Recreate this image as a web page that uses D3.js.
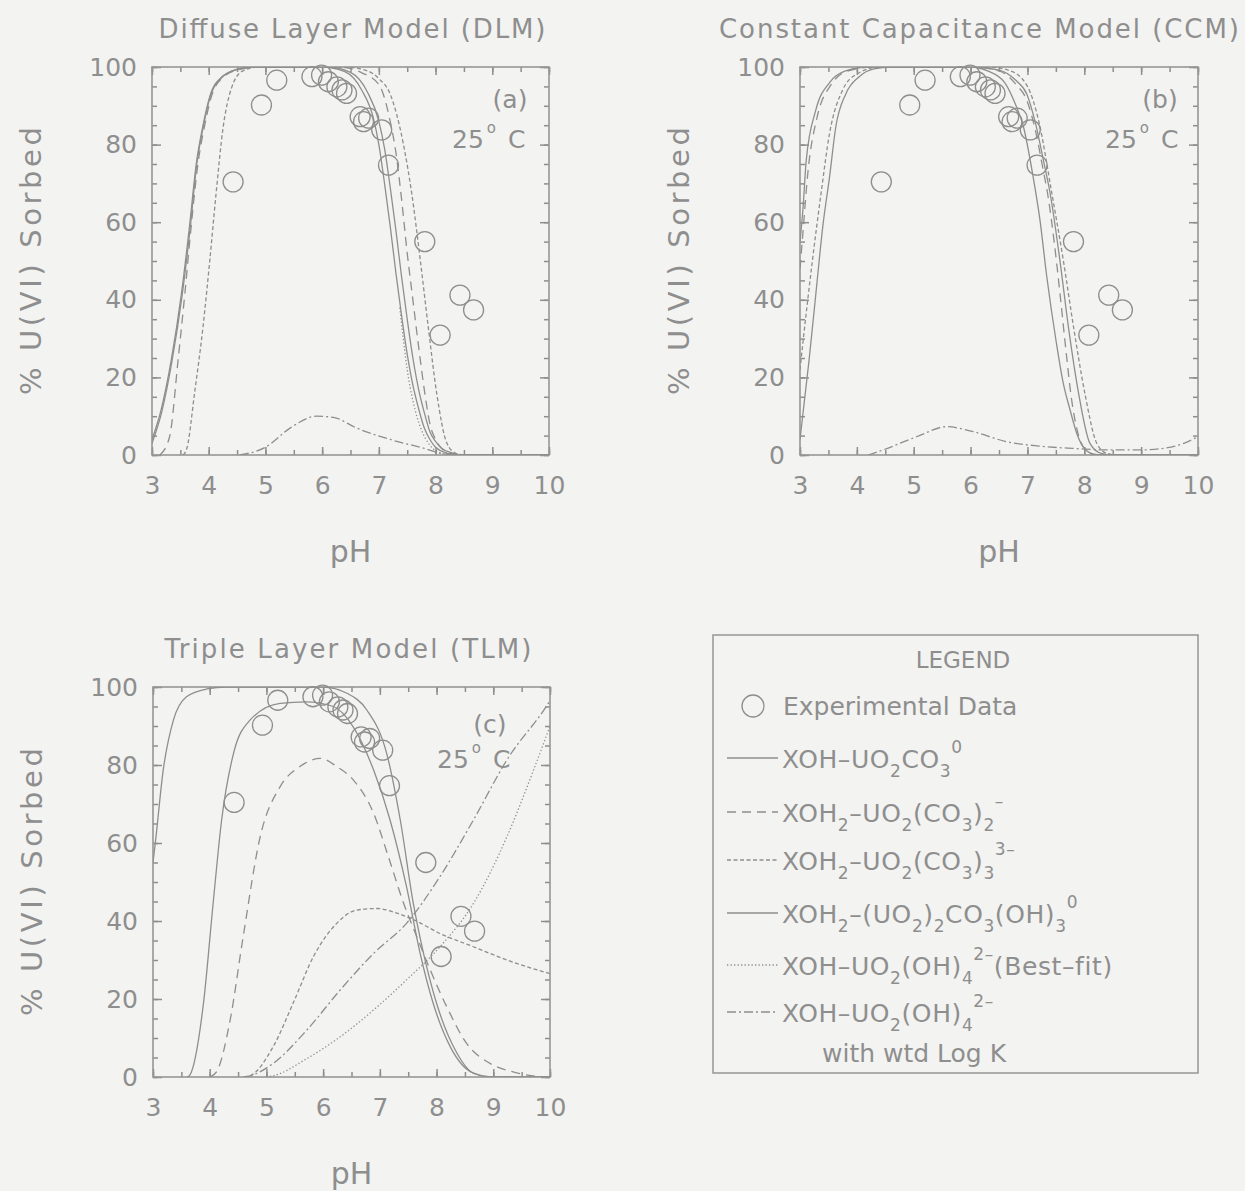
<!DOCTYPE html>
<html>
<head>
<meta charset="utf-8">
<script src="https://cdn.jsdelivr.net/npm/d3@7"></script>
<style>
    body { margin: 0; background: #f3f3f1; }
    #c { width: 1245px; height: 1191px; }
    text { font-family: "DejaVu Sans", sans-serif; }
</style>
</head>
<body>
<div id="c"></div>
<script>
"use strict";

// tick labels
const phTicks = [3, 4, 5, 6, 7, 8, 9, 10]
const sorbTicks = [0, 20, 40, 60, 80, 100]

const panelTitles = ["Diffuse Layer Model (DLM)", "Constant Capacitance Model (CCM)", "Triple Layer Model (TLM)"]
const panelTags = ["(a)", "(b)", "(c)"]

// experimental data (same on every panel)
const expPH  = [4.43, 4.93, 5.20, 5.82, 5.99, 6.11, 6.26, 6.35, 6.43, 6.67, 6.73, 6.82, 7.05, 7.17, 7.81, 8.08, 8.43, 8.67]
const expPct = [70.4, 90.2, 96.6, 97.5, 97.9, 96.2, 94.9, 94.1, 93.2, 87.2, 85.9, 86.8, 83.8, 74.7, 55.0, 30.9, 41.2, 37.4]

// (a) DLM curves, [pH, % sorbed]
const dlmMono = [[3.0,4],[3.16,11.6],[3.34,24.5],[3.52,41.7],[3.66,58.8],[3.78,75],[3.9,85],[4.02,92.5],[4.22,97.3],[4.5,99.4],[4.8,100],[6.0,100],[6.4,98.8],[6.7,94],[6.9,87],[7.0,80],[7.1,70],[7.2,59],[7.3,47],[7.4,36],[7.5,26],[7.6,18],[7.7,12],[7.8,7],[7.9,4],[8.0,2],[8.2,0.5],[8.4,0],[10,0]]
const dlmBis = [[3.14,0],[3.31,4.7],[3.46,24.5],[3.58,41.7],[3.69,58.8],[3.81,75],[3.93,85],[4.05,92.5],[4.25,97.3],[4.55,99.4],[4.9,100],[6.3,100],[6.7,98.5],[7.0,95.5],[7.2,86],[7.3,78],[7.4,66],[7.5,52],[7.6,40],[7.7,28],[7.8,17],[7.9,8],[8.0,4],[8.1,1.8],[8.3,0.3],[8.5,0],[10,0]]
const dlmTris = [[3.55,0],[3.62,2],[3.75,15.9],[3.9,33.1],[4.02,50.3],[4.13,67.4],[4.25,84],[4.4,94.5],[4.6,99],[4.9,100],[6.4,100],[6.8,99],[7.0,97],[7.2,93],[7.43,80.3],[7.58,67.4],[7.73,50.3],[7.87,33.1],[8.02,15.9],[8.2,3],[8.35,0.5],[8.5,0],[10,0]]
const dlmDimer = [[3.0,3],[3.17,11],[3.35,24],[3.53,41],[3.67,58],[3.79,75],[3.91,85],[4.03,92.5],[4.23,97.3],[4.5,99.4],[4.8,100],[6.1,100],[6.5,98.6],[6.8,93.5],[7.0,86],[7.1,79],[7.2,69],[7.3,58],[7.4,46],[7.5,35],[7.6,25],[7.7,17],[7.8,11],[7.9,6],[8.0,3.5],[8.1,1.8],[8.3,0.5],[8.5,0],[10,0]]
const dlmBest = [[7.37,38],[7.43,30],[7.5,22],[7.6,14],[7.75,6.5],[7.9,2.5],[8.1,0.5],[8.3,0]]
const dlmWtd = [[4.55,0],[5.0,2],[5.44,7],[5.9,10],[6.2,9.7],[6.6,7],[7.2,4],[7.8,1.7],[8.1,0.4],[8.4,0],[10,0]]

// (b) CCM curves
const ccmMono = [[3.0,55],[3.05,63],[3.11,76],[3.28,89],[3.52,96],[3.8,99],[4.2,100],[6.0,100],[6.5,99.2],[6.8,96.5],[6.99,93],[7.15,85],[7.28,76],[7.4,67.4],[7.57,50.3],[7.72,33.1],[7.9,15.9],[8.1,3],[8.3,0.4],[8.5,0],[10,0]]
const ccmBis = [[3.0,48],[3.05,57],[3.14,73],[3.3,87],[3.55,95.5],[3.85,99],[4.3,100],[6.0,100],[6.5,99],[6.8,95.5],[7.0,91],[7.15,83],[7.27,74],[7.37,66],[7.47,55],[7.57,42],[7.67,28],[7.77,15],[7.9,5],[8.05,1],[8.2,0],[10,0]]
const ccmTris = [[3.0,22],[3.05,28.8],[3.22,50.3],[3.37,67.4],[3.52,82.9],[3.75,94.1],[3.98,98],[4.4,100],[6.3,100],[6.7,99],[7.0,95],[7.2,86],[7.43,67.4],[7.63,50.3],[7.81,33.1],[8.01,15.9],[8.22,3],[8.4,0.4],[8.6,0],[10,0]]
const ccmDimer = [[3.0,4],[3.16,24.5],[3.28,41.7],[3.4,58.8],[3.52,71.7],[3.63,84.6],[3.81,93.2],[4.04,97.5],[4.3,99.5],[4.6,100],[6.0,100],[6.3,99],[6.6,96],[6.8,90],[6.93,84.6],[7.1,71.7],[7.22,60.6],[7.34,46],[7.51,28.8],[7.63,18.5],[7.75,11.6],[7.87,5.5],[7.98,2.1],[8.15,0.3],[8.3,0],[10,0]]
const ccmWtd = [[4.2,0],[4.46,1.3],[5.05,4.7],[5.58,7.3],[6.05,6],[6.64,3.4],[7.2,2.3],[7.8,1.7],[8.4,1.3],[9.0,1.3],[9.6,2.3],[10,4.7]]

// (c) TLM curves
const tlmMono = [[3.0,55],[3.04,59.9],[3.18,78.7],[3.36,91.5],[3.59,97.5],[3.95,99.5],[4.3,100],[6.0,100],[6.42,98.4],[6.77,94.1],[7.12,83],[7.36,65.9],[7.59,44.5],[7.77,31.7],[8.0,18.9],[8.36,6.1],[8.65,1],[9.0,0],[10,0]]
const tlmBis = [[4.0,0],[4.12,1.3],[4.36,14.6],[4.59,36],[4.89,61.6],[5.24,74.4],[5.59,79.6],[5.95,81.7],[6.25,79.5],[6.53,76.2],[6.89,67.6],[7.15,56.5],[7.42,44.5],[7.65,36],[7.89,27.4],[8.18,18],[8.53,8.6],[8.94,3.5],[9.35,1.3],[9.7,0.3],[10,0]]
const tlmTris = [[4.6,0],[4.71,0.3],[5.12,7.8],[5.47,18.9],[5.83,30.9],[6.24,39.4],[6.59,42.8],[6.95,43.2],[7.3,42],[7.6,40.3],[8.06,36.8],[8.65,33.4],[9.24,30],[10,26.5]]
const tlmDimer = [[3.6,0],[3.65,0.5],[3.89,18.9],[4.06,44.5],[4.21,65.9],[4.42,83],[4.71,91.5],[5.24,95.8],[5.7,96.2],[6.18,95],[6.53,89.8],[6.89,78.7],[7.18,65.9],[7.47,48.8],[7.71,31.7],[7.94,18.9],[8.24,7.8],[8.65,1],[9.0,0],[10,0]]
const tlmBest = [[5.0,0],[5.12,0.3],[5.71,4.7],[6.3,10.3],[6.89,17.2],[7.47,24.9],[8.06,33.4],[8.65,44.5],[9.24,61.6],[9.71,78.7],[10,90]]
const tlmWtd = [[4.6,0],[4.71,0.3],[5.12,3.5],[5.71,12],[6.3,22.3],[6.89,31.7],[7.47,39.4],[8.06,51.4],[8.65,65.9],[9.24,81.3],[9.97,95.8],[10,96.5]]

// legend text pieces
const legendRows = [
    [["XOH–UO"],["2","sub"],["CO"],["3","sub"],["0","sup"]],
    [["XOH"],["2","sub"],["–UO"],["2","sub"],["(CO"],["3","sub"],[")"],["2","sub"],["–","sup"]],
    [["XOH"],["2","sub"],["–UO"],["2","sub"],["(CO"],["3","sub"],[")"],["3","sub"],["3–","sup"]],
    [["XOH"],["2","sub"],["–(UO"],["2","sub"],[")"],["2","sub"],["CO"],["3","sub"],["(OH)"],["3","sub"],["0","sup"]],
    [["XOH–UO"],["2","sub"],["(OH)"],["4","sub"],["2–","sup"],["(Best–fit)"]],
    [["XOH–UO"],["2","sub"],["(OH)"],["4","sub"],["2–","sup"]]
]
const legendKeys = ["mono", "bis", "tris", "dimer", "best", "wtd"]

const ink = "#8e8e8e"
const dashes = {mono: null, bis: "9,6", tris: "4,2.5", dimer: null, best: "1.3,2.2", wtd: "9,3,2,3"}

let svg

window.onload = function() {
    svg = d3.select('#c').append('svg')
        .attr('width', 1245)
        .attr('height', 1191)
    svg.append('rect')
        .attr('width', 1245).attr('height', 1191)
        .attr('fill', '#f3f3f1')

    const panels = [
        {id: 0, left: 152, top: 67, w: 397, h: 388, titleX: 352, titleLen: 387,
            curves: {mono: dlmMono, bis: dlmBis, tris: dlmTris, dimer: dlmDimer, best: dlmBest, wtd: dlmWtd},
            tagDx: -39, tagDy: 41, tempDx: -97},
        {id: 1, left: 800, top: 67, w: 398, h: 388, titleX: 979, titleLen: 520,
            curves: {mono: ccmMono, bis: ccmBis, tris: ccmTris, dimer: ccmDimer, wtd: ccmWtd},
            tagDx: -38, tagDy: 41, tempDx: -93},
        {id: 2, left: 153, top: 687, w: 397, h: 390, titleX: 348, titleLen: 367,
            curves: {mono: tlmMono, bis: tlmBis, tris: tlmTris, dimer: tlmDimer, best: tlmBest, wtd: tlmWtd},
            tagDx: -60, tagDy: 46, tempDx: -113}
    ]
    panels.forEach(p => drawPanel(p))
    drawLegend()
}

function styleText(sel, size) {
    return sel.attr('font-family', '"DejaVu Sans", sans-serif')
        .attr('font-size', size)
        .attr('fill', ink)
}

function drawPanel(p) {
    const x = d3.scaleLinear().domain([3, 10]).range([0, p.w])
    const y = d3.scaleLinear().domain([0, 100]).range([p.h, 0])
    const g = svg.append('g')
        .attr('transform', "translate(" + p.left + "," + p.top + ")")

    g.append('clipPath').attr('id', 'clip' + p.id)
        .append('rect').attr('width', p.w).attr('height', p.h)

    // inward ticks on all four sides
    const minorX = d3.range(3, 10.01, 0.5)
    const minorY = d3.range(0, 100.1, 5)
    const addAxis = (axis, tr) => {
        let a = g.append('g')
            .attr('transform', tr)
            .call(axis)
        a.select('.domain').remove()
        a.selectAll('line').attr('stroke', ink).attr('stroke-width', 1.5)
        a.selectAll('text').attr('fill', ink)
        a.attr('font-family', '"DejaVu Sans", sans-serif').attr('font-size', 25)
        return a
    }
    addAxis(d3.axisBottom(x).tickValues(minorX).tickSize(-5).tickFormat(''), "translate(0," + p.h + ")")
    addAxis(d3.axisTop(x).tickValues(minorX).tickSize(-5).tickFormat(''), "translate(0,0)")
    addAxis(d3.axisLeft(y).tickValues(minorY).tickSize(-5).tickFormat(''), "translate(0,0)")
    addAxis(d3.axisRight(y).tickValues(minorY).tickSize(-5).tickFormat(''), "translate(" + p.w + ",0)")
    addAxis(d3.axisBottom(x).tickValues(phTicks).tickSize(-8).tickPadding(21).tickFormat(d3.format("d")), "translate(0," + p.h + ")")
    addAxis(d3.axisTop(x).tickValues(phTicks).tickSize(-8).tickFormat(''), "translate(0,0)")
    addAxis(d3.axisLeft(y).tickValues(sorbTicks).tickSize(-9).tickPadding(15), "translate(0,0)")
    addAxis(d3.axisRight(y).tickValues(sorbTicks).tickSize(-9).tickFormat(''), "translate(" + p.w + ",0)")

    g.append('rect')
        .attr('width', p.w).attr('height', p.h)
        .attr('fill', 'none')
        .attr('stroke', '#969696')
        .attr('stroke-width', 1.6)

    // model curves
    const line = d3.line()
        .x(d => x(d[0]))
        .y(d => y(d[1]))
        .curve(d3.curveMonotoneX)
    const cg = g.append('g').attr('clip-path', 'url(#clip' + p.id + ')')
    Object.keys(p.curves).forEach(k => {
        cg.append('path')
            .datum(p.curves[k])
            .attr('fill', 'none')
            .attr('stroke', ink)
            .attr('stroke-width', 1.3)
            .attr('stroke-dasharray', dashes[k])
            .attr('d', line)
    })

    // experimental points
    g.append('g')
        .selectAll('circle')
        .data(expPH.map((v, i) => [v, expPct[i]]))
        .enter()
        .append('circle')
            .attr('cx', d => x(d[0]))
            .attr('cy', d => y(d[1]))
            .attr('r', 10)
            .attr('fill', 'none')
            .attr('stroke', ink)
            .attr('stroke-width', 1.3)

    // labels
    styleText(svg.append('text'), 26)
        .attr('x', p.titleX).attr('y', p.top - 29)
        .attr('text-anchor', 'middle')
        .attr('textLength', p.titleLen)
        .attr('lengthAdjust', 'spacing')
        .text(panelTitles[p.id])

    styleText(svg.append('text'), 29)
        .attr('transform', "translate(" + (p.left - 121) + "," + (p.top + p.h / 2) + ") rotate(-90)")
        .attr('text-anchor', 'middle')
        .attr('dy', '0.35em')
        .attr('textLength', 268)
        .attr('lengthAdjust', 'spacing')
        .text("% U(VI) Sorbed")

    styleText(svg.append('text'), 30)
        .attr('x', p.left + p.w / 2).attr('y', p.top + p.h + 107)
        .attr('text-anchor', 'middle')
        .text("pH")

    styleText(g.append('text'), 25)
        .attr('x', p.w + p.tagDx).attr('y', p.tagDy)
        .attr('text-anchor', 'middle')
        .text(panelTags[p.id])

    let t = styleText(g.append('text'), 25)
        .attr('x', p.w + p.tempDx).attr('y', 81)
    t.append('tspan').text("25")
    t.append('tspan').attr('font-size', 15).attr('dy', -15).attr('dx', 3).text("o")
    t.append('tspan').attr('dy', 15).attr('dx', 12).text("C")
}

function addFormula(text, pieces) {
    const shift = {main: 0, sub: 9, sup: -15}
    let cur = 0
    pieces.forEach(pc => {
        const kind = pc[1] || 'main'
        text.append('tspan')
            .attr('dy', shift[kind] - cur)
            .attr('font-size', kind == 'main' ? 25 : 17)
            .text(pc[0])
        cur = shift[kind]
    })
}

function drawLegend() {
    const g = svg.append('g')
    g.append('rect')
        .attr('x', 713).attr('y', 635)
        .attr('width', 485).attr('height', 438)
        .attr('fill', 'none')
        .attr('stroke', '#969696')
        .attr('stroke-width', 1.5)

    styleText(g.append('text'), 23)
        .attr('x', 963).attr('y', 668)
        .attr('text-anchor', 'middle')
        .text("LEGEND")

    g.append('circle')
        .attr('cx', 753).attr('cy', 706).attr('r', 11)
        .attr('fill', 'none').attr('stroke', ink).attr('stroke-width', 1.3)
    styleText(g.append('text'), 25)
        .attr('x', 783).attr('y', 715)
        .text("Experimental Data")

    const rowY = [768, 822, 870, 923, 975, 1022]
    legendRows.forEach((row, i) => {
        g.append('line')
            .attr('x1', 727).attr('x2', 778)
            .attr('y1', rowY[i] - 10).attr('y2', rowY[i] - 10)
            .attr('stroke', ink)
            .attr('stroke-width', 1.3)
            .attr('stroke-dasharray', dashes[legendKeys[i]])
        let t = styleText(g.append('text'), 25)
            .attr('x', 782).attr('y', rowY[i])
            .attr('letter-spacing', 0.6)
        addFormula(t, row)
    })

    styleText(g.append('text'), 25)
        .attr('x', 822).attr('y', 1062)
        .text("with wtd Log K")
}
</script>
</body>
</html>
